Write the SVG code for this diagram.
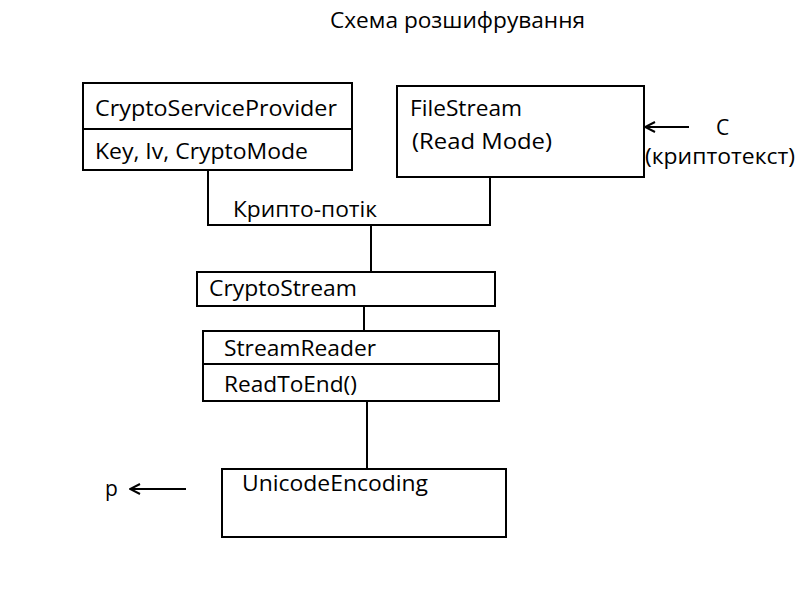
<svg xmlns="http://www.w3.org/2000/svg" width="800" height="600" viewBox="0 0 800 600">
<defs>
<style>
text{font-family:"Open Sans","Liberation Sans",sans-serif;font-size:21px;fill:#000}
.box{fill:#fff;stroke:#000;stroke-width:2}
.ln{fill:none;stroke:#000;stroke-width:2}
</style>
<marker id="arr" viewBox="0 0 12 12" refX="11" refY="6" markerWidth="12" markerHeight="12" markerUnits="userSpaceOnUse" orient="auto">
<polyline points="1,1 11,6 1,11" fill="none" stroke="#000" stroke-width="2"/>
</marker>
</defs>
<rect width="800" height="600" fill="#fff"/>
<text x="330" y="28" textLength="255" lengthAdjust="spacingAndGlyphs">Схема розшифрування</text>
<g id="connectors">
<polyline class="ln" points="208,170 208,225 490,225 490,175"/>
<line class="ln" x1="371" y1="225" x2="371" y2="272"/>
<line class="ln" x1="364" y1="306" x2="364" y2="331"/>
<line class="ln" x1="367" y1="401" x2="367" y2="469"/>
<line class="ln" x1="689" y1="127" x2="645" y2="127" marker-end="url(#arr)"/>
<line class="ln" x1="186" y1="489" x2="130" y2="489" marker-end="url(#arr)"/>
<text x="233" y="217" textLength="144" lengthAdjust="spacingAndGlyphs">Крипто-потік</text>
<text x="716" y="135">C</text>
<text x="645" y="164" textLength="150" lengthAdjust="spacingAndGlyphs">(криптотекст)</text>
<text x="105" y="496">p</text>
</g>
<g id="csp">
<rect class="box" x="83" y="83" width="269" height="87"/>
<line class="ln" x1="83" y1="129" x2="352" y2="129"/>
<text x="95" y="116" textLength="242" lengthAdjust="spacingAndGlyphs">CryptoServiceProvider</text>
<text x="95" y="159" textLength="213" lengthAdjust="spacingAndGlyphs">Key, Iv, CryptoMode</text>
</g>
<g id="filestream">
<rect class="box" x="397" y="86" width="247" height="91"/>
<text x="410" y="116" textLength="112" lengthAdjust="spacingAndGlyphs">FileStream</text>
<text x="412" y="149" textLength="140" lengthAdjust="spacingAndGlyphs">(Read Mode)</text>
</g>
<g id="cryptostream">
<rect class="box" x="197" y="272" width="298" height="34"/>
<text x="209" y="296" textLength="148" lengthAdjust="spacingAndGlyphs">CryptoStream</text>
</g>
<g id="streamreader">
<rect class="box" x="203" y="331" width="296" height="70"/>
<line class="ln" x1="203" y1="364" x2="499" y2="364"/>
<text x="224" y="356" textLength="152" lengthAdjust="spacingAndGlyphs">StreamReader</text>
<text x="224" y="392" textLength="133" lengthAdjust="spacingAndGlyphs">ReadToEnd()</text>
</g>
<g id="unicode">
<rect class="box" x="222" y="469" width="284" height="68"/>
<text x="242" y="491" textLength="186" lengthAdjust="spacingAndGlyphs">UnicodeEncoding</text>
</g>
</svg>
